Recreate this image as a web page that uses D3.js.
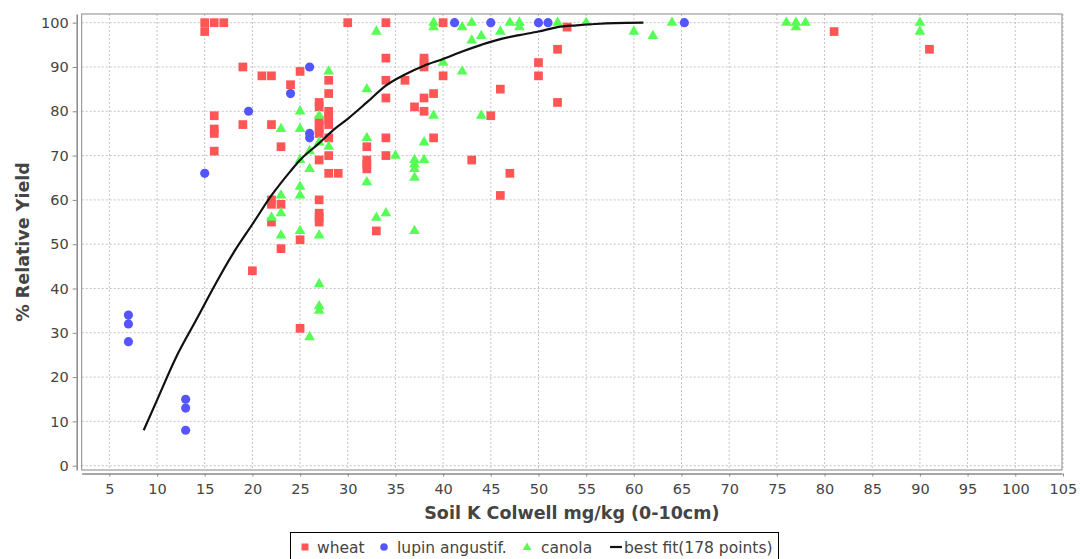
<!doctype html>
<meta charset="utf-8">
<script src="https://d3js.org/d3.v7.min.js"></script>
<style>
body { margin: 0; background: #fff; }
text { font-family: "DejaVu Sans", sans-serif; }
</style>
<body>
<script>

var width = 1080;
var height = 559;

// data
var wheatK = [15,15,16,17,30,19,21,22,24,25,16,16,16,16,19,22,23,27,27,27,27,27,27,27,27,27,27,27,
    28,28,28,28,28,28,28,28,28,29,22,22,23,22,23,25,20,25,34,34,34,34,34,34,36,37,38,38,38,38,
    39,39,40,40,43,45,46,46,47,50,50,33,32,32,32,32,52,52,53,81,91,38];
var wheatYield = [100,98,100,100,100,90,88,88,86,89,79,76,75,71,77,77,72,82,81,78,77,76,75,69,60,57,56,55,
    87,84,80,79,78,77,74,70,66,66,60,59,59,55,49,51,44,31,100,92,87,83,74,70,87,81,92,90,83,80,
    84,74,100,88,69,79,85,61,66,91,88,53,72,69,68,67,94,82,99,98,94,91];

var lupinK = [15,19.6,24,26,26,26,7,7,7,13,13,13,41.2,45,50,51,65.3];
var lupinYield = [66,80,84,90,75,74,34,32,28,15,13,8,100,100,100,100,100];

var canolaK = [28,25,25,23,27,27,26,26,28,25,25,25,23,23,22,23,25,27,27,27,27,26,32,33,32,32,33,34,
    35,37,37,37,37,37,38,38,39,39,39,40,42,42,43,43,44,44,46,47,48,48,52,55,60,62,64,76,77,77,78,90,90];
var canolaYield = [89,80,76,76,79,73,71,67,72,69,63,61,61,57,56,52,53,52,41,36,35,29,85,98,74,64,56,57,
    70,69,68,67,65,53,73,69,79,100,99,91,89,99,100,96,97,79,98,100,100,99,100,100,98,97,100,100,100,99,100,100,98];

var fitK = [8.6,10,12,14,15,16,18,20,22,24,25,27,28.5,30,32,34,36,38,40,42,44,46,48,50,52,54,56,58,61];
var fitYield = [8,14.8,24.5,32.5,36.5,40.5,48,54.5,61,66.5,69,72.8,75.8,78.3,82,85.8,88.3,90.3,91.8,93.5,95,96.3,97.2,98,99,99.4,99.7,99.9,100];

var xTicks = d3.range(5, 106, 5);
var yTicks = d3.range(0, 101, 10);

var red = "#ff5555", blue = "#5555ff", green = "#55ff55";

var plot = {left: 81.7, top: 14, right: 1062, bottom: 470};

var svg = d3.select("body").append("svg")
    .attr("width", width)
    .attr("height", height);

var x = d3.scaleLinear().domain([2.1, 104.9]).range([plot.left, plot.right]);
var y = d3.scaleLinear().domain([-0.97, 101.96]).range([plot.bottom, plot.top]);

// grid
svg.append("g").selectAll("line").data(xTicks).enter().append("line")
    .attr("x1", function(d) { return x(d); }).attr("x2", function(d) { return x(d); })
    .attr("y1", plot.top).attr("y2", plot.bottom)
    .style("stroke", "#c4c4c4").style("stroke-dasharray", "2,2");
svg.append("g").selectAll("line").data(yTicks).enter().append("line")
    .attr("y1", function(d) { return y(d); }).attr("y2", function(d) { return y(d); })
    .attr("x1", plot.left).attr("x2", plot.right)
    .style("stroke", "#c4c4c4").style("stroke-dasharray", "2,2");

svg.append("rect")
    .attr("x", plot.left).attr("y", plot.top)
    .attr("width", plot.right - plot.left).attr("height", plot.bottom - plot.top)
    .style("fill", "none").style("stroke", "#888");

// axes, offset from the plot like the original
var xAxis = svg.append("g")
    .attr("transform", "translate(0," + (plot.bottom + 3.5) + ")")
    .call(d3.axisBottom(x).tickValues(xTicks).tickSize(3).tickSizeOuter(0).tickPadding(7));
var yAxis = svg.append("g")
    .attr("transform", "translate(" + (plot.left - 5) + ",0)")
    .call(d3.axisLeft(y).tickValues(yTicks).tickSize(4).tickSizeOuter(0).tickPadding(4));

[xAxis, yAxis].forEach(function(a) {
    a.select(".domain").style("stroke", "#888").style("stroke-width", 1.5);
    a.selectAll(".tick line").style("stroke", "#888");
    a.selectAll(".tick text").style("font-size", "14.5px").style("fill", "#444")
        .style("font-family", "DejaVu Sans");
});

svg.append("text")
    .attr("x", (plot.left + plot.right) / 2).attr("y", 518.5)
    .attr("text-anchor", "middle")
    .style("font-size", "17.5px").style("font-weight", "bold").style("fill", "#444")
    .text("Soil K Colwell mg/kg (0-10cm)");

svg.append("text")
    .attr("transform", "translate(29," + ((plot.top + plot.bottom) / 2) + ") rotate(-90)")
    .attr("text-anchor", "middle")
    .style("font-size", "17.5px").style("font-weight", "bold").style("fill", "#444")
    .text("% Relative Yield");

// markers
var sq = d3.symbol().type(d3.symbolSquare).size(76);
var ci = d3.symbol().type(d3.symbolCircle).size(66);
var tr = d3.symbol().type(d3.symbolTriangle).size(50);

var pts = svg.append("g");
pts.selectAll(".w").data(wheatK).enter().append("path")
    .attr("d", sq)
    .attr("transform", function(d, i) { return "translate(" + x(d) + "," + y(wheatYield[i]) + ")"; })
    .style("fill", red);
pts.selectAll(".l").data(lupinK).enter().append("path")
    .attr("d", ci)
    .attr("transform", function(d, i) { return "translate(" + x(d) + "," + y(lupinYield[i]) + ")"; })
    .style("fill", blue);
pts.selectAll(".c").data(canolaK).enter().append("path")
    .attr("d", tr)
    .attr("transform", function(d, i) { return "translate(" + x(d) + "," + y(canolaYield[i]) + ")"; })
    .style("fill", green);

var line = d3.line()
    .x(function(d) { return x(d); })
    .y(function(d, i) { return y(fitYield[i]); })
    .curve(d3.curveMonotoneX);
svg.append("path")
    .attr("d", line(fitK))
    .style("fill", "none").style("stroke", "#111").style("stroke-width", 2.2);

// legend
var lg = svg.append("g");
lg.append("rect").attr("x", 290.5).attr("y", 532.5).attr("width", 488).attr("height", 30)
    .style("fill", "#fff").style("stroke", "#000");
var ly = 547;
lg.append("path").attr("d", d3.symbol().type(d3.symbolSquare).size(49)).attr("transform", "translate(305," + ly + ")").style("fill", red);
lg.append("path").attr("d", d3.symbol().type(d3.symbolCircle).size(45)).attr("transform", "translate(384," + ly + ")").style("fill", blue);
lg.append("path").attr("d", d3.symbol().type(d3.symbolTriangle).size(34)).attr("transform", "translate(527," + (ly + 0.5) + ")").style("fill", green);
lg.append("line").attr("x1", 610).attr("x2", 622).attr("y1", ly).attr("y2", ly).style("stroke", "#111").style("stroke-width", 2.2);
var legendText = [["wheat", 317], ["lupin angustif.", 397], ["canola", 541], ["best fit(178 points)", 624]];
lg.selectAll("text").data(legendText).enter().append("text")
    .attr("x", function(d) { return d[1]; }).attr("y", ly + 5.5)
    .style("font-size", "15.5px").style("fill", "#444")
    .text(function(d) { return d[0]; });

</script>
